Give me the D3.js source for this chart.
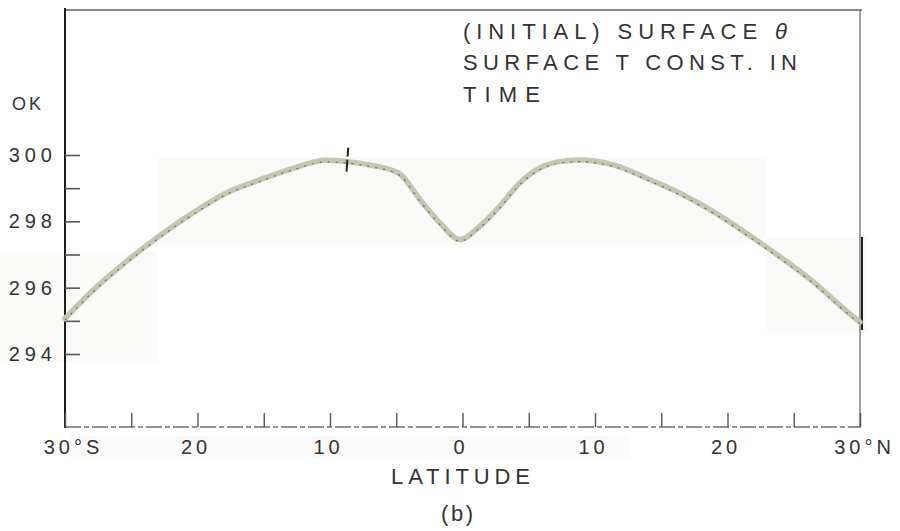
<!DOCTYPE html>
<html>
<head>
<meta charset="utf-8">
<script src="https://cdn.jsdelivr.net/npm/d3@7"></script>
<style>
  html, body { margin: 0; padding: 0; background: #fff; }
  svg { display: block; }
  text { font-family: "Liberation Sans", "DejaVu Sans", sans-serif; fill: #333; }
</style>
</head>
<body>
<svg id="chart" width="900" height="531"></svg>
<script>
// Surface potential temperature (K) against latitude, 30°S .. 30°N
const latitude = [-30, -28, -25.4, -22.9, -20.4, -17.9, -15.3, -12.8, -10.3, -8.7, -7, -4.8, -3.2, -1.7, -0.2,
                  1.3, 2.8, 4.3, 5.8, 7.3, 8.8, 11.4, 13.9, 16.4, 18.9, 21.5, 24, 26.5, 28.5, 30];
const theta = [295.07, 295.88, 296.78, 297.55, 298.24, 298.84, 299.25, 299.6, 299.84, 299.8, 299.7, 299.45, 298.65, 297.95, 297.45,
               297.85, 298.45, 299.15, 299.6, 299.8, 299.85, 299.7, 299.3, 298.85, 298.3, 297.62, 296.92, 296.17, 295.46, 294.96];

// short cross-mark on the curve
const markLat = [-8.7];

// axis ticks and labels
const yMinorTicks = [294, 295, 296, 297, 298, 299, 300];
const yLabelTicks = [294, 296, 298, 300];
const xMinorTicks = [-30, -25, -20, -15, -10, -5, 0, 5, 10, 15, 20, 25, 30];
const xLabelTicks = [-30, -20, -10, 0, 10, 20, 30];
const xLabelText = ["30°S", "20", "10", "0", "10", "20", "30°N"];
const titleLines = ["(INITIAL) SURFACE ", "SURFACE T CONST. IN", "TIME"];

const svg = d3.select("#chart");

const plotLeft = 65, plotRight = 860, plotTop = 10, plotBottom = 427;
const x = d3.scaleLinear().domain([-30, 30]).range([plotLeft, plotRight]);
const y = d3.scaleLinear().domain([294, 300]).range([354, 155]);

// faint patches of the paper
const patches = [[158, 157, 609, 88], [0, 252, 158, 110], [767, 237, 100, 96], [70, 436, 560, 22]];
svg.append("g").selectAll("rect").data(patches).join("rect")
  .attr("x", d => d[0]).attr("y", d => d[1]).attr("width", d => d[2]).attr("height", d => d[3])
  .attr("fill", "#fafaf9");

// frame
const frame = svg.append("g").attr("fill", "none");
frame.append("line").attr("x1", plotLeft).attr("x2", plotRight + 2).attr("y1", plotTop).attr("y2", plotTop)
  .attr("stroke", "#8a8a84").attr("stroke-width", 2.2);
frame.append("line").attr("x1", plotRight).attr("x2", plotRight).attr("y1", plotTop).attr("y2", plotBottom + 1)
  .attr("stroke", "#7c7c7c").attr("stroke-width", 1.5);
frame.append("line").attr("x1", plotRight + 2).attr("x2", plotRight + 2).attr("y1", 237).attr("y2", 330)
  .attr("stroke", "#222").attr("stroke-width", 2);
frame.append("line").attr("x1", plotLeft).attr("x2", plotRight).attr("y1", plotBottom).attr("y2", plotBottom)
  .attr("stroke", "#6e6e6e").attr("stroke-width", 1.3).attr("stroke-dasharray", "16,3,5,3");
frame.append("line").attr("x1", plotLeft).attr("x2", plotLeft).attr("y1", plotTop - 2).attr("y2", plotBottom + 1)
  .attr("stroke", "#1e1e1e").attr("stroke-width", 2);

// y-axis: inward ticks every 1 K
const yTicks = svg.append("g").attr("transform", `translate(${plotLeft},0)`)
  .call(d3.axisRight(y).tickValues(yMinorTicks).tickSize(15).tickFormat(""));
yTicks.select(".domain").remove();
yTicks.selectAll(".tick line").attr("stroke", "#555").attr("stroke-width", 1.6);

// y-axis labels
const yLab = svg.append("g").attr("transform", `translate(${plotLeft},0)`)
  .call(d3.axisLeft(y).tickValues(yLabelTicks).tickSize(0).tickPadding(8).tickFormat(d3.format("d")));
yLab.select(".domain").remove();
yLab.selectAll(".tick text")
  .style("font-family", "'Liberation Sans', sans-serif").style("font-size", "20px")
  .attr("fill", "#333").attr("letter-spacing", "5px");

// x-axis: upward ticks every 5°
const xTicks = svg.append("g").attr("transform", `translate(0,${plotBottom})`)
  .call(d3.axisTop(x).tickValues(xMinorTicks).tickSize(14).tickFormat(""));
xTicks.select(".domain").remove();
xTicks.selectAll(".tick line").attr("stroke", "#555").attr("stroke-width", 1.4);

// x-axis labels
const xLab = svg.append("g").attr("transform", `translate(0,${plotBottom})`)
  .call(d3.axisBottom(x).tickValues(xLabelTicks).tickSize(0).tickPadding(13)
    .tickFormat((d, i) => xLabelText[i]));
xLab.select(".domain").remove();
xLab.selectAll(".tick text")
  .style("font-family", "'Liberation Sans', sans-serif").style("font-size", "20px")
  .attr("fill", "#333").attr("letter-spacing", "4px")
  .attr("dx", (d, i) => i === 0 ? 8 : (i === xLabelTicks.length - 1 ? 4 : -2));

// the curve
const pts = latitude.map((d, i) => [d, theta[i]]);
const line = d3.line().x(d => x(d[0])).y(d => y(d[1])).curve(d3.curveMonotoneX);
svg.append("path").datum(pts).attr("d", line)
  .attr("fill", "none").attr("stroke", "#c4c6b0").attr("stroke-width", 5.5)
  .attr("stroke-linejoin", "round").attr("stroke-linecap", "round");
svg.append("path").datum(pts).attr("d", line)
  .attr("transform", "translate(0,1.6)")
  .attr("fill", "none").attr("stroke", "#3c3c36").attr("stroke-width", 1.2)
  .attr("stroke-dasharray", "2,6").attr("opacity", 0.65);

// cross-mark on the curve
const thetaAt = lat => {
  const i = d3.bisectLeft(latitude, lat);
  if (latitude[i] === lat) return theta[i];
  const t = (lat - latitude[i - 1]) / (latitude[i] - latitude[i - 1]);
  return theta[i - 1] + t * (theta[i] - theta[i - 1]);
};
svg.append("g").selectAll("line").data(markLat).join("line")
  .attr("x1", d => x(d) + 1).attr("x2", d => x(d) - 1)
  .attr("y1", d => y(thetaAt(d)) - 14).attr("y2", d => y(thetaAt(d)) + 14)
  .attr("stroke", "#222").attr("stroke-width", 2).attr("stroke-dasharray", "9,3,12");

// unit label
svg.append("text").attr("x", 12).attr("y", 110)
  .style("font-size", "18px").attr("letter-spacing", "3px").text("OK");

// caption block in the upper right
const title = svg.append("g").style("font-size", "22px");
const t1 = title.append("text").attr("x", 463).attr("y", 39)
  .attr("textLength", 324).attr("lengthAdjust", "spacing");
t1.append("tspan").text(titleLines[0]);
t1.append("tspan").style("font-style", "italic").text("θ");
title.append("text").attr("x", 463).attr("y", 70)
  .attr("textLength", 334).attr("lengthAdjust", "spacing").text(titleLines[1]);
title.append("text").attr("x", 463).attr("y", 102)
  .attr("textLength", 77).attr("lengthAdjust", "spacing").text(titleLines[2]);

// axis title and panel letter
svg.append("text").attr("x", 391).attr("y", 484).style("font-size", "22px")
  .attr("textLength", 139).attr("lengthAdjust", "spacing").text("LATITUDE");
svg.append("text").attr("x", 441).attr("y", 521).style("font-size", "22px")
  .attr("textLength", 32).attr("lengthAdjust", "spacing").text("(b)");
</script>
</body>
</html>
